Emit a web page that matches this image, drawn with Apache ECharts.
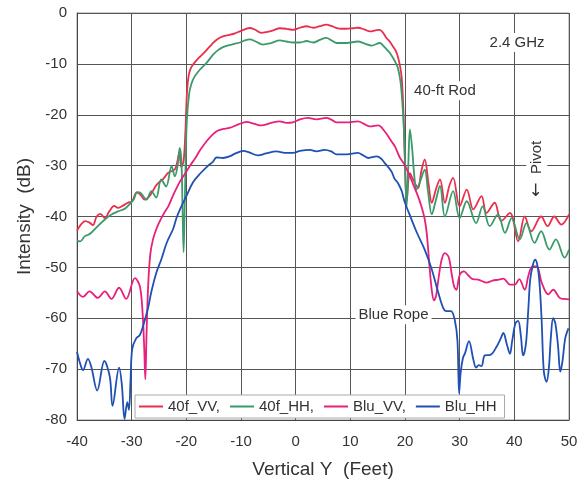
<!DOCTYPE html>
<html>
<head>
<meta charset="utf-8">
<script src="https://cdn.jsdelivr.net/npm/echarts@6/dist/echarts.min.js"></script>
<style>
  html, body { margin: 0; padding: 0; background: #fff; }
  #chart { width: 584px; height: 485px; }
</style>
</head>
<body>
<div id="chart"></div>
<script>
// Series names shown in the legend
const seriesNames = ['40f_VV,', '40f_HH,', 'Blu_VV,', 'Blu_HH'];

// 40-ft rod, VV polarisation: [vertical Y (ft), intensity (dB)]
const rodVV = [
  [-40,-42.8],[-39.3,-41.6],[-38.5,-40.9],[-37.7,-41.2],[-37.1,-41.7],[-36.4,-40.0],[-35.7,-39.5],[-34.9,-40.3],
  [-34.1,-39.0],[-33.2,-37.9],[-32.5,-38.3],[-31.8,-38.0],[-30.7,-37.3],[-29.9,-37.0],[-29.1,-35.3],[-28.5,-35.6],
  [-27.6,-36.7],[-26.6,-35.8],[-25.6,-34.0],[-25.0,-33.3],[-24.3,-32.7],[-23.3,-31.4],[-22.5,-31.0],[-22.0,-30.6],
  [-21.6,-29.0],[-21.3,-27.5],[-20.9,-30.3],[-20.5,-29.0],[-20.2,-24.0],[-19.9,-16.0],[-19.6,-12.5],[-19.2,-10.9],
  [-18.6,-9.9],[-17.9,-9.0],[-17.2,-8.3],[-16.3,-7.3],[-15.3,-6.1],[-14.4,-5.2],[-13.3,-4.6],[-12.1,-4.3],
  [-11.1,-4.0],[-10.2,-3.6],[-9.3,-3.2],[-8.4,-2.95],[-7.4,-3.3],[-6.3,-3.9],[-5.2,-3.7],[-4.1,-3.4],
  [-2.9,-3.0],[-1.7,-3.1],[-0.5,-3.3],[0.8,-2.9],[2.0,-2.6],[3.2,-2.9],[4.4,-2.6],[5.6,-2.3],
  [6.6,-2.6],[7.5,-2.95],[8.4,-3.1],[9.3,-3.1],[10.4,-3.0],[11.4,-2.9],[12.5,-3.2],[13.6,-3.6],
  [14.6,-3.4],[15.4,-3.3],[16.0,-3.9],[16.6,-4.9],[17.2,-5.6],[17.8,-6.6],[18.3,-7.4],[18.7,-8.6],
  [19.1,-10.5],[19.4,-12.8],[19.7,-19.0],[20.0,-30.0],[20.3,-37.0],[20.9,-31.5],[21.6,-33.0],[22.4,-34.4],
  [23.0,-31.0],[23.6,-28.8],[24.3,-33.5],[24.9,-37.3],[25.7,-34.5],[26.4,-32.7],[27.3,-37.3],[28.1,-34.0],
  [28.8,-32.4],[30.0,-38.0],[31.3,-34.7],[32.5,-38.6],[34.0,-36.0],[34.9,-39.3],[36.4,-37.3],[37.6,-40.9],
  [39.2,-39.3],[40.7,-44.9],[41.9,-40.0],[43.1,-42.9],[44.9,-40.0],[46.1,-41.9],[47.3,-40.0],[48.6,-41.6],
  [50,-39.6]
];

// 40-ft rod, HH polarisation
const rodHH = [
  [-40,-44.8],[-39.4,-44.9],[-38.6,-43.9],[-37.9,-43.6],[-37.4,-43.2],[-36.2,-41.9],[-34.9,-40.6],[-33.7,-39.6],
  [-32.5,-39.0],[-31.3,-38.5],[-30.4,-37.6],[-29.6,-36.6],[-29.0,-35.2],[-28.3,-35.4],[-27.3,-36.7],[-26.4,-35.0],
  [-25.5,-36.3],[-24.6,-32.7],[-23.7,-34.1],[-22.7,-30.1],[-22.1,-32.1],[-21.6,-30.0],[-21.2,-26.5],[-20.9,-29.2],
  [-20.7,-38.0],[-20.5,-47.0],[-20.3,-38.0],[-20.1,-28.0],[-19.9,-21.0],[-19.5,-16.0],[-19.1,-14.0],[-18.5,-12.5],
  [-17.5,-11.1],[-16.3,-9.8],[-15.1,-8.2],[-14.2,-7.3],[-13.3,-6.7],[-11.7,-6.2],[-10.2,-5.8],[-9.3,-5.4],
  [-8.4,-5.2],[-7.3,-5.6],[-6.0,-6.2],[-4.5,-5.9],[-2.9,-5.4],[-1.7,-5.6],[-0.5,-5.8],[0.8,-5.8],
  [2.0,-5.5],[3.2,-5.8],[4.4,-5.3],[5.6,-4.9],[6.6,-5.4],[7.5,-5.9],[9.3,-5.9],[11.4,-5.6],
  [12.6,-6.0],[13.9,-6.4],[15.4,-5.9],[16.0,-6.4],[16.6,-7.1],[17.2,-7.8],[17.8,-8.8],[18.3,-9.8],
  [18.7,-10.8],[19.2,-13.7],[19.6,-19.0],[19.9,-25.5],[20.1,-33.0],[20.3,-38.0],[20.6,-30.0],[20.9,-22.9],
  [21.3,-26.5],[21.7,-32.0],[22.1,-34.7],[22.8,-33.0],[23.6,-30.8],[24.2,-35.0],[24.9,-39.6],[25.6,-37.0],
  [26.4,-34.0],[27.3,-40.0],[28.8,-35.0],[30.0,-40.3],[31.3,-37.0],[33.0,-41.3],[34.2,-38.0],[35.5,-41.9],
  [37.0,-39.6],[38.3,-43.2],[39.5,-40.3],[41.0,-44.5],[42.2,-41.3],[43.7,-45.2],[44.9,-42.9],[46.4,-46.5],
  [47.6,-44.5],[49.2,-48.1],[50,-46.5]
];

// Blue rope, VV polarisation
const ropeVV = [
  [-40,-54.7],[-38.9,-55.8],[-37.7,-54.7],[-36.2,-56.0],[-34.9,-54.7],[-33.7,-56.2],[-32.3,-54.0],[-31.0,-56.2],
  [-29.4,-52.1],[-28.5,-53.7],[-28.0,-59.0],[-27.7,-66.0],[-27.5,-72.0],[-27.3,-64.0],[-27.0,-54.0],[-26.6,-47.5],
  [-26.1,-44.5],[-25.5,-42.5],[-24.8,-40.8],[-24.0,-39.2],[-23.3,-38.0],[-22.4,-35.8],[-21.2,-33.2],[-20.0,-31.2],
  [-19.2,-29.8],[-18.4,-28.6],[-17.5,-27.0],[-16.3,-25.2],[-15.1,-23.8],[-14.2,-23.1],[-13.3,-22.8],[-12.1,-22.6],
  [-10.5,-21.9],[-9.0,-21.4],[-7.5,-21.8],[-6.3,-22.1],[-4.5,-21.6],[-2.9,-21.3],[-1.7,-21.6],[-0.5,-21.5],
  [0.8,-20.9],[2.2,-20.6],[3.8,-20.9],[5.6,-20.6],[6.6,-21.0],[7.5,-21.5],[9.3,-21.5],[11.4,-21.3],
  [12.5,-21.8],[13.6,-22.3],[15.1,-22.1],[16.3,-23.3],[17.5,-25.2],[18.2,-26.3],[19.0,-28.3],[19.9,-29.8],
  [20.7,-31.6],[21.5,-33.7],[22.3,-35.8],[23.0,-38.0],[23.6,-40.5],[24.0,-43.5],[24.5,-50.0],[24.9,-54.5],
  [25.3,-56.5],[25.7,-55.5],[26.1,-52.4],[26.7,-48.5],[27.3,-47.2],[28.0,-48.0],[28.5,-51.0],[29.0,-53.8],
  [29.4,-54.4],[30.0,-51.5],[30.8,-50.8],[31.6,-51.6],[32.4,-52.3],[33.4,-52.4],[34.9,-53.0],[36.0,-52.6],
  [37.2,-52.4],[38.0,-52.2],[39.2,-53.4],[40.1,-53.4],[40.9,-52.3],[41.9,-54.4],[42.6,-51.5],[43.3,-49.8],
  [44.1,-49.8],[45.0,-53.0],[46.2,-55.3],[47.1,-54.4],[48.3,-56.0],[49.1,-56.2],[50,-56.3]
];

// Blue rope, HH polarisation
const ropeHH = [
  [-40,-66.6],[-39.4,-69.0],[-38.9,-70.2],[-38.0,-68.0],[-37.4,-69.5],[-36.3,-74.2],[-35.0,-68.4],[-34.0,-71.5],
  [-33.5,-77.2],[-32.3,-69.7],[-31.8,-73.0],[-31.3,-79.8],[-30.8,-76.5],[-30.5,-78.0],[-30.2,-72.0],[-29.9,-66.0],
  [-29.2,-64.0],[-28.5,-63.3],[-27.9,-61.5],[-27.0,-58.0],[-26.4,-54.8],[-25.5,-51.1],[-24.6,-48.5],[-23.6,-45.2],
  [-22.4,-42.4],[-21.8,-40.3],[-20.9,-38.0],[-20.0,-36.0],[-18.8,-33.3],[-17.5,-31.6],[-16.0,-30.0],[-15.1,-29.2],
  [-14.5,-28.4],[-13.3,-28.5],[-12.1,-28.2],[-11.0,-27.6],[-9.6,-27.1],[-8.5,-27.4],[-6.9,-28.0],[-5.4,-27.6],
  [-3.5,-27.2],[-2.0,-27.5],[-0.5,-27.5],[0.8,-27.1],[2.6,-26.9],[3.8,-27.2],[5.3,-26.9],[6.5,-27.2],
  [7.5,-27.8],[9.3,-27.8],[11.4,-27.5],[12.4,-28.0],[13.3,-28.5],[14.8,-28.2],[15.6,-28.6],[16.3,-29.5],
  [17.5,-31.1],[18.1,-32.6],[18.7,-33.4],[19.4,-35.0],[19.9,-37.0],[21.2,-40.6],[22.1,-43.0],[23.6,-46.5],
  [24.9,-50.4],[26.1,-55.0],[27.0,-58.0],[27.6,-58.6],[28.4,-58.6],[29.1,-60.3],[29.6,-64.5],[29.9,-74.7],
  [30.2,-70.5],[30.6,-67.8],[31.0,-66.8],[31.7,-64.5],[32.5,-68.1],[33.0,-69.7],[33.5,-69.2],[34.0,-69.4],
  [34.6,-67.3],[35.6,-67.2],[36.8,-65.5],[37.5,-64.0],[38.0,-62.9],[38.6,-65.0],[39.2,-67.0],[39.6,-64.5],
  [40.2,-61.0],[40.7,-60.5],[41.2,-63.5],[41.6,-67.3],[41.9,-66.5],[42.2,-64.2],[42.6,-57.5],[42.9,-52.4],
  [43.4,-49.5],[43.8,-48.5],[44.2,-49.5],[44.6,-53.0],[45.0,-60.5],[45.4,-70.5],[45.9,-72.5],[46.3,-70.0],
  [46.7,-63.5],[47.1,-60.0],[47.5,-61.0],[48.0,-65.5],[48.4,-70.5],[48.8,-68.5],[49.3,-64.0],[49.9,-62.0]
];

// Text notes placed at data coordinates
const notes = [
  { text: '2.4 GHz',   at: [40.5, -5.8],  rotate: 0 },
  { text: '40-ft Rod', at: [27.3, -15.3], rotate: 0 },
  { text: 'Blue Rope', at: [17.9, -59.3], rotate: 0 },
  { text: '{arr|\u2190}  Pivot', at: [44.1, -30.6], rotate: Math.PI / 2 }
];

const colors = ['#ea2f4b', '#3b9a6a', '#e8207c', '#1f50b3'];
const FONT = '"Liberation Sans", Arial, sans-serif';

const chart = echarts.init(document.getElementById('chart'), null, { renderer: 'canvas' });

function makeSeries(name, data, color) {
  return {
    name: name,
    type: 'line',
    data: data,
    showSymbol: false,
    smooth: 0.35,
    lineStyle: { color: color, width: 1.8 },
    itemStyle: { color: color },
    emphasis: { disabled: true }
  };
}

chart.setOption({
  animation: false,
  backgroundColor: '#fff',
  color: colors,
  grid: {
    left: 77, top: 13, width: 492, height: 407,
    show: true, borderColor: '#9a9a9a', borderWidth: 1, backgroundColor: 'transparent'
  },
  xAxis: {
    type: 'value', min: -40, max: 50, interval: 10,
    name: 'Vertical Y  (Feet)', nameLocation: 'middle', nameGap: 40,
    nameTextStyle: { fontFamily: FONT, fontSize: 19, color: '#333' },
    axisLine: { show: true, onZero: false, lineStyle: { color: '#444', width: 1 } },
    axisTick: { show: false },
    axisLabel: { fontFamily: FONT, fontSize: 15, color: '#333', margin: 14 },
    splitLine: { show: true, lineStyle: { color: '#555', width: 1 } }
  },
  yAxis: {
    type: 'value', min: -80, max: 0, interval: 10,
    name: 'Intensity  (dB)', nameLocation: 'middle', nameGap: 41,
    nameTextStyle: { fontFamily: FONT, fontSize: 19, color: '#333' },
    axisLine: { show: true, onZero: false, lineStyle: { color: '#444', width: 1 } },
    axisTick: { show: false },
    axisLabel: { fontFamily: FONT, fontSize: 15, color: '#333', margin: 10 },
    splitLine: { show: true, lineStyle: { color: '#555', width: 1 } }
  },
  legend: {
    data: seriesNames,
    left: 135, top: 395,
    orient: 'horizontal',
    backgroundColor: '#fff',
    borderColor: '#aaa', borderWidth: 1,
    padding: [4, 8, 4, 4],
    itemGap: 10, itemWidth: 24, itemHeight: 2,
    icon: 'rect',
    textStyle: { fontFamily: FONT, fontSize: 15, color: '#333' }
  },
  series: [
    makeSeries(seriesNames[0], rodVV, colors[0]),
    makeSeries(seriesNames[1], rodHH, colors[1]),
    makeSeries(seriesNames[2], ropeVV, colors[2]),
    makeSeries(seriesNames[3], ropeHH, colors[3])
  ]
});

// Place the text notes through the chart's own coordinate system
const graphics = notes.map(function (n) {
  const p = chart.convertToPixel({ gridIndex: 0 }, n.at);
  return {
    type: 'text',
    x: p[0], y: p[1],
    rotation: n.rotate,
    z: 10,
    style: {
      text: n.text,
      fill: '#333',
      font: '15px ' + FONT,
      align: 'center',
      verticalAlign: 'middle',
      backgroundColor: '#fff',
      padding: [2, 3],
      rich: {
        arr: { fontFamily: '"DejaVu Sans", sans-serif', fontSize: 17, fill: '#333' }
      }
    }
  };
});
chart.setOption({ graphic: graphics });
</script>
</body>
</html>
